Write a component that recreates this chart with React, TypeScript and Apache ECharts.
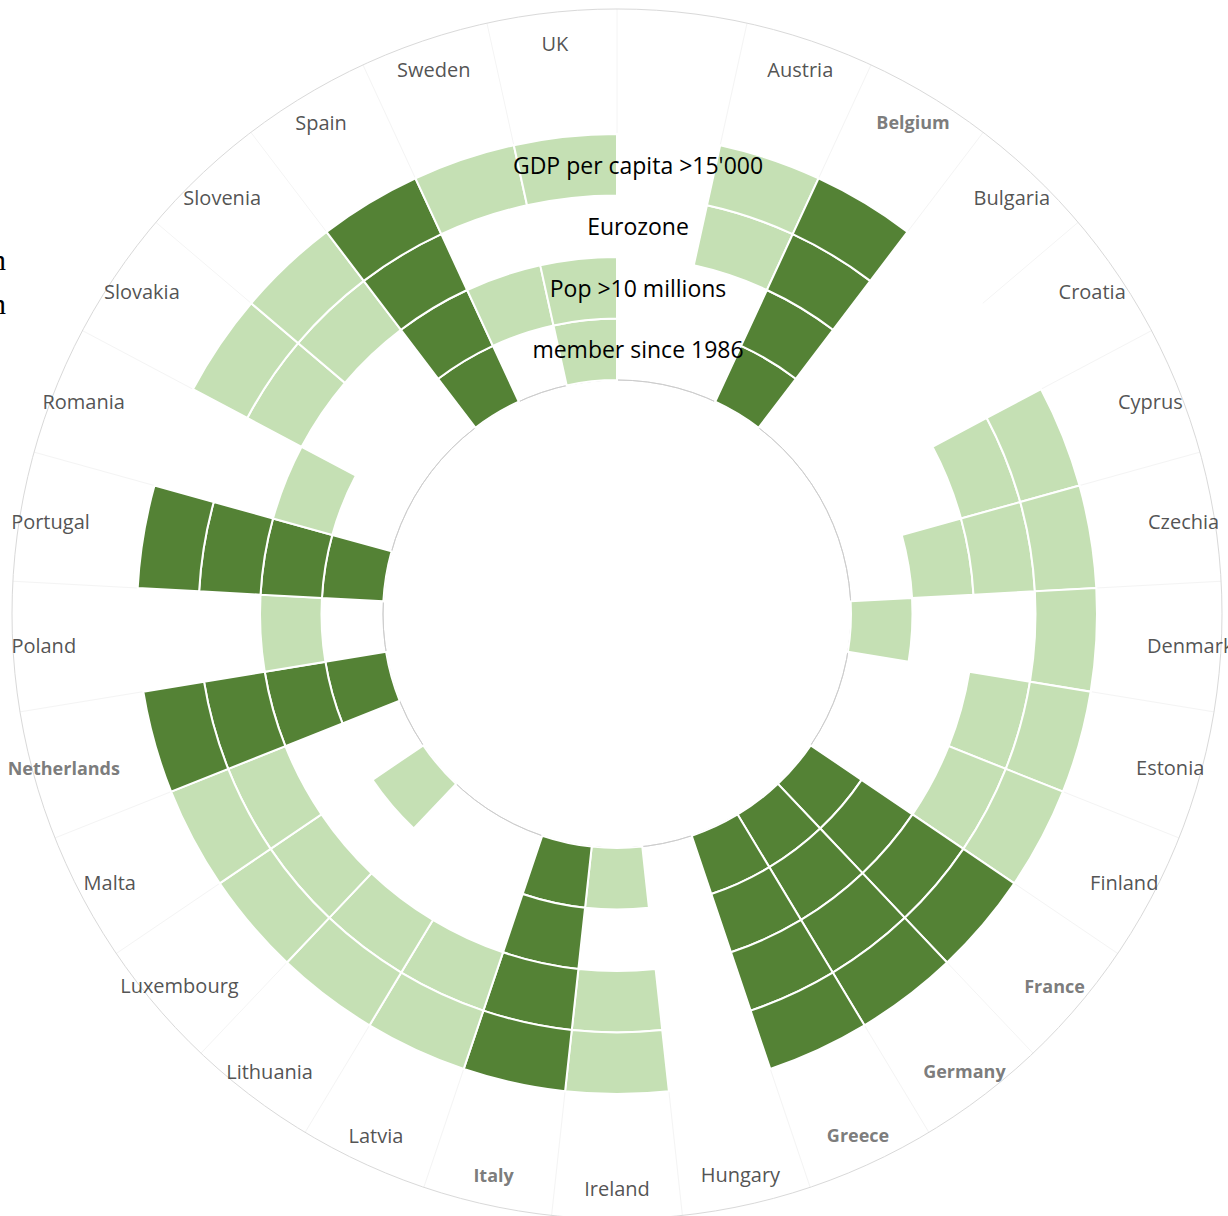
import React, { useEffect, useRef } from "react";
import * as echarts from "echarts";

// Categories around the circle (clockwise from the top; the first slot is left blank for the ring titles)
const countries = [
  "", "Austria", "Belgium", "Bulgaria", "Croatia", "Cyprus", "Czechia", "Denmark", "Estonia",
  "Finland", "France", "Germany", "Greece", "Hungary", "Ireland", "Italy", "Latvia", "Lithuania",
  "Luxembourg", "Malta", "Netherlands", "Poland", "Portugal", "Romania", "Slovakia", "Slovenia",
  "Spain", "Sweden", "UK",
];

// Ring titles (inner -> outer)
const ringNames = ["member since 1986", "Pop >10 millions", "Eurozone", "GDP per capita >15'000"];

// Flags per country (1 = condition met)
const memberSince1986 = [0, 0, 1, 0, 0, 0, 0, 1, 0, 0, 1, 1, 1, 0, 1, 1, 0, 0, 1, 0, 1, 0, 1, 0, 0, 0, 1, 0, 1];
const popOver10M = [0, 0, 1, 0, 0, 0, 1, 0, 0, 0, 1, 1, 1, 0, 0, 1, 0, 0, 0, 0, 1, 1, 1, 1, 0, 0, 1, 1, 1];
const eurozone = [0, 1, 1, 0, 0, 1, 1, 0, 1, 1, 1, 1, 1, 0, 1, 1, 1, 1, 1, 1, 1, 0, 1, 0, 1, 1, 1, 0, 0];
const gdpOver15000 = [0, 1, 1, 0, 0, 1, 1, 1, 1, 1, 1, 1, 1, 0, 1, 1, 1, 1, 1, 1, 1, 0, 1, 0, 1, 1, 1, 1, 1];

const boldCountries = ["Belgium", "France", "Germany", "Greece", "Italy", "Netherlands"];

const DARK = "#548235";
const LIGHT = "#C5E0B4";
const FONT = "'Open Sans', 'Noto Sans', sans-serif";

const ringFlags = [memberSince1986, popOver10M, eurozone, gdpOver15000];

// radius axis units: one ring = 1
const RADIUS_MAX = 6.0325;
const LABEL_RADIUS = 5.53;

function cellStyle(i: number, ring: number) {
  if (!ringFlags[ring][i]) {
    return { color: "rgba(0,0,0,0)", borderWidth: 0, borderColor: "rgba(0,0,0,0)" };
  }
  const all = ringFlags.every((f) => f[i] === 1);
  return { color: all ? DARK : LIGHT, borderColor: "#ffffff", borderWidth: 2 };
}

export default function App() {
  const ref = useRef<HTMLDivElement>(null);

  useEffect(() => {
    if (!ref.current) return;
    const chart = echarts.init(ref.current, undefined, { renderer: "svg" });

    const barSeries = ringNames.map((name, ring) => ({
      type: "bar",
      name,
      coordinateSystem: "polar",
      polarIndex: 0,
      stack: "rings",
      barCategoryGap: "0%",
      silent: true,
      data: countries.map((_, i) => ({
        value: 1,
        itemStyle: cellStyle(i, ring),
      })),
      z: 2,
    }));

    const labelData = countries
      .map((c, i) => {
        if (!c) return null;
        const bold = boldCountries.includes(c);
        return {
          value: [LABEL_RADIUS, i],
          name: c,
          label: bold
            ? { fontWeight: "bold", fontSize: 18, color: "#595959" }
            : { fontWeight: "normal", fontSize: 20, color: "#262626" },
        };
      })
      .filter((d) => d !== null);

    const plainAngle = (polarIndex: number) => ({
      polarIndex,
      type: "category",
      data: countries,
      startAngle: 90,
      clockwise: true,
      boundaryGap: true,
      axisTick: { show: false },
      axisLabel: { show: false },
    });

    chart.setOption({
      animation: false,
      backgroundColor: "#ffffff",
      polar: [
        { center: [617, 614], radius: [234, 605] },
        { center: [617, 614], radius: [480, 605] },
        { center: [617, 614], radius: [0, 234] },
      ],
      angleAxis: [
        {
          ...plainAngle(0),
          axisLine: { show: true, lineStyle: { color: "#d9d9d9", width: 1 } },
          splitLine: { show: false },
        },
        {
          ...plainAngle(1),
          axisLine: { show: false },
          splitLine: { show: true, interval: 0, lineStyle: { color: "#f4f4f4", width: 1 } },
        },
        {
          ...plainAngle(2),
          axisLine: { show: true, lineStyle: { color: "#cccccc", width: 1 } },
          splitLine: { show: false },
        },
      ],
      radiusAxis: [
        {
          polarIndex: 0,
          type: "value",
          min: 0,
          max: RADIUS_MAX,
          interval: 0.5,
          z: 10,
          axisLine: { show: false },
          axisTick: { show: false },
          splitLine: { show: false },
          axisLabel: {
            show: true,
            margin: -21,
            align: "center",
            fontFamily: FONT,
            fontSize: 23,
            color: "#000000",
            formatter: (v: number) => {
              const k = Math.round(v * 2);
              if (Math.abs(v * 2 - k) > 1e-6) return "";
              if (k % 2 === 1) {
                const idx = (k - 1) / 2;
                if (idx < ringNames.length) return ringNames[idx];
              }
              return "";
            },
          },
        },
        { polarIndex: 1, type: "value", min: 0, max: 1, show: false },
        { polarIndex: 2, type: "value", min: 0, max: 1, show: false },
      ],
      series: [
        ...barSeries,
        {
          type: "scatter",
          coordinateSystem: "polar",
          polarIndex: 0,
          symbolSize: 1,
          silent: true,
          itemStyle: { color: "rgba(0,0,0,0)" },
          z: 5,
          label: {
            show: true,
            position: "inside",
            formatter: "{b}",
            fontFamily: FONT,
            align: "center",
            verticalAlign: "middle",
          },
          data: labelData,
        },
      ],
      graphic: [
        {
          type: "text",
          left: -9,
          top: 244,
          style: {
            text: "n\n\nn",
            font: "30px 'Liberation Serif', serif",
            fill: "#000000",
            lineHeight: 22,
          },
        },
      ],
    });

    return () => chart.dispose();
  }, []);

  return (
    <div
      ref={ref}
      style={{ position: "absolute", left: 0, top: 0, width: 1228, height: 1216, background: "#fff" }}
    />
  );
}
